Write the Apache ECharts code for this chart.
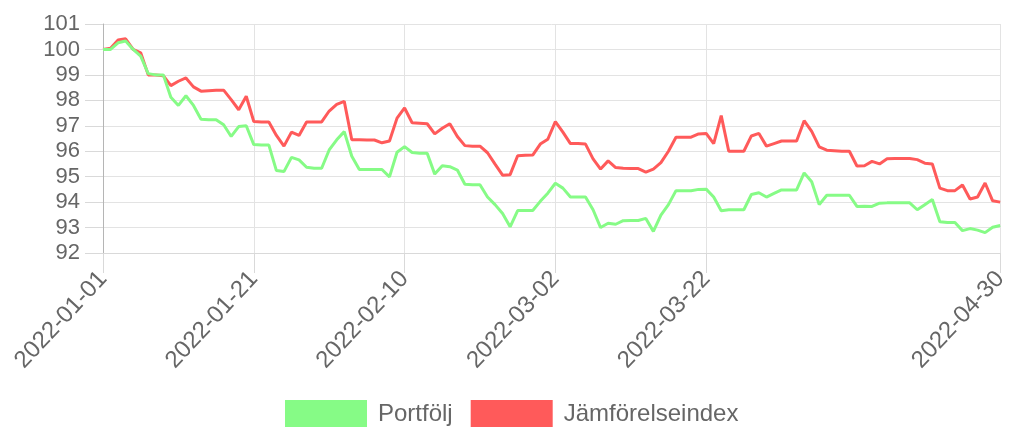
<!DOCTYPE html>
<html>
<head>
<meta charset="utf-8">
<script src="https://cdn.jsdelivr.net/npm/echarts@6/dist/echarts.min.js"></script>
<style>
html,body{margin:0;padding:0;background:#fff;}
#chart{width:1011px;height:427px;}
</style>
</head>
<body>
<div id="chart"></div>
<script>
// ---- data ----
const startDate = '2022-01-01';
const dayCount = 120;
const tickLabels = ['2022-01-01','2022-01-21','2022-02-10','2022-03-02','2022-03-22','2022-04-30'];
const yTicks = [92,93,94,95,96,97,98,99,100,101];
const seriesNames = ['Portfölj','Jämförelseindex'];

const portfolj = [
100.0,100.0,100.26,100.33,100.0,99.74,99.05,99.0,99.0,98.12,
97.8,98.18,97.8,97.26,97.24,97.24,97.04,96.58,96.97,97.0,
96.26,96.24,96.24,95.24,95.2,95.76,95.66,95.37,95.33,95.33,
96.05,96.45,96.77,95.8,95.28,95.28,95.28,95.28,94.99,95.96,
96.18,95.95,95.92,95.92,95.1,95.43,95.39,95.26,94.7,94.68,
94.68,94.2,93.9,93.55,93.03,93.67,93.67,93.67,94.03,94.35,
94.74,94.55,94.2,94.2,94.2,93.7,93.0,93.17,93.13,93.27,
93.28,93.28,93.36,92.85,93.49,93.9,94.45,94.45,94.45,94.5,
94.51,94.2,93.66,93.7,93.7,93.7,94.3,94.37,94.2,94.34,
94.48,94.48,94.48,95.15,94.8,93.9,94.27,94.27,94.27,94.27,
93.83,93.84,93.83,93.96,93.97,93.97,93.97,93.97,93.7,93.9,
94.1,93.23,93.2,93.2,92.88,92.96,92.9,92.8,93.01,93.08
];

const jamforelseindex = [
100.0,100.05,100.37,100.42,100.0,99.87,99.0,99.0,98.97,98.58,
98.75,98.88,98.53,98.36,98.38,98.4,98.4,98.03,97.63,98.16,
97.17,97.15,97.15,96.62,96.2,96.75,96.62,97.15,97.15,97.15,
97.58,97.84,97.96,96.45,96.45,96.44,96.44,96.33,96.4,97.3,
97.7,97.12,97.1,97.08,96.68,96.9,97.08,96.58,96.22,96.2,
96.2,95.94,95.49,95.06,95.08,95.82,95.84,95.85,96.28,96.47,
97.16,96.75,96.3,96.3,96.28,95.7,95.3,95.62,95.36,95.33,
95.32,95.32,95.18,95.3,95.55,96.0,96.55,96.55,96.55,96.68,
96.7,96.3,97.4,96.0,96.0,96.0,96.6,96.7,96.2,96.3,
96.4,96.4,96.4,97.2,96.78,96.17,96.04,96.02,96.0,96.0,
95.42,95.43,95.6,95.5,95.7,95.71,95.71,95.71,95.67,95.53,
95.5,94.55,94.45,94.45,94.67,94.12,94.2,94.75,94.05,94.0
];

// ---- categories (consecutive days) ----
const categories = [];
{
  const d0 = new Date(startDate + 'T00:00:00Z');
  for (let i = 0; i < dayCount; i++) {
    const d = new Date(d0.getTime() + i * 86400000);
    categories.push(d.toISOString().slice(0, 10));
  }
}

const FONT = '"Liberation Sans", Arial, Helvetica, sans-serif';
const GREEN = '#86fb86';
const RED = '#ff5a5a';
const showTick = (idx, val) => tickLabels.indexOf(categories[idx]) !== -1;

const chart = echarts.init(document.getElementById('chart'), null, {renderer: 'canvas'});
chart.setOption({
  animation: false,
  backgroundColor: '#fff',
  textStyle: {fontFamily: FONT},
  grid: {left: 103, right: 5, top: 24, bottom: 174, containLabel: false},
  legend: {
    data: [
      {name: seriesNames[0], itemStyle: {color: GREEN}},
      {name: seriesNames[1], itemStyle: {color: RED}}
    ],
    top: 400,
    left: 285,
    padding: 0,
    icon: 'rect',
    itemWidth: 82,
    itemHeight: 28,
    itemGap: 18,
    textStyle: {fontFamily: FONT, fontSize: 24, color: '#666', padding: [0, 0, 0, 6]}
  },
  xAxis: {
    type: 'category',
    data: categories,
    boundaryGap: false,
    axisLine: {show: true, lineStyle: {color: '#d9d9d9', width: 1}},
    axisTick: {show: true, length: 20, interval: showTick, lineStyle: {color: '#d9d9d9'}},
    splitLine: {show: true, interval: showTick, lineStyle: {color: '#e3e3e3', width: 1}},
    axisLabel: {
      interval: showTick,
      rotate: 47,
      margin: 22,
      fontSize: 24,
      color: '#666',
      fontFamily: FONT
    }
  },
  yAxis: {
    type: 'value',
    min: yTicks[0],
    max: yTicks[yTicks.length - 1],
    interval: 1,
    axisLine: {show: true, lineStyle: {color: '#b5b5b5', width: 1}},
    axisTick: {show: true, length: 18, lineStyle: {color: '#d9d9d9'}},
    splitLine: {show: true, lineStyle: {color: '#e3e3e3', width: 1}},
    axisLabel: {fontSize: 22, color: '#666', margin: 23, fontFamily: FONT}
  },
  series: [
    {
      name: seriesNames[1],
      type: 'line',
      data: jamforelseindex,
      showSymbol: false,
      symbol: 'none',
      lineStyle: {color: RED, width: 3},
      itemStyle: {color: RED},
      z: 2
    },
    {
      name: seriesNames[0],
      type: 'line',
      data: portfolj,
      showSymbol: false,
      symbol: 'none',
      lineStyle: {color: GREEN, width: 3},
      itemStyle: {color: GREEN},
      z: 3
    }
  ]
});
</script>
</body>
</html>
